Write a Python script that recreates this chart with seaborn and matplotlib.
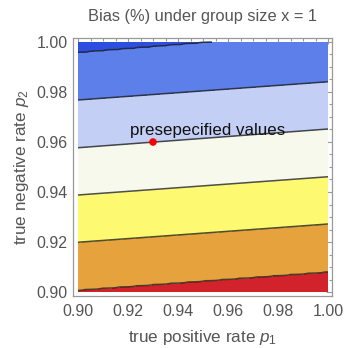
import numpy as np
import matplotlib
matplotlib.use("Agg")
import matplotlib.pyplot as plt
import seaborn as sns
import pandas as pd

# ---- data ----
# contour boundaries (p2 value) at p1 = 0.90 and p1 = 1.00, bottom -> top
p1_range = [0.90, 1.00]
p2_range = [0.90, 1.00]
boundary_p2_at_p1_090 = [0.9008, 0.9199, 0.9388, 0.9577, 0.9768, 0.9957]
boundary_p2_at_p1_100 = [0.9081, 0.9272, 0.9461, 0.9652, 0.9841, 1.0037]
# band colours, bottom (highest bias) -> top (lowest bias)
band_colors = ["#d2222c", "#e5a23d", "#fdfa72", "#f7f9ec", "#c3cff4", "#5c7fe9", "#2c4fe0"]
point_p1 = [0.93]
point_p2 = [0.96]
point_label = "presepecified values"
title = "Bias (%) under group size x = 1"
xlabel = r"true positive rate $p_1$"
ylabel = r"true negative rate $p_2$"
tick_values = [0.90, 0.92, 0.94, 0.96, 0.98, 1.00]

sns.set_theme(style="white")
plt.rcParams["font.family"] = ["Liberation Sans", "DejaVu Sans"]
plt.rcParams["mathtext.fontset"] = "custom"
plt.rcParams["mathtext.rm"] = "Liberation Sans"
plt.rcParams["mathtext.it"] = "Liberation Sans:italic"

fig = plt.figure(figsize=(3.44, 3.48), dpi=100)
ax = fig.add_axes([73 / 344, (348 - 296) / 348, 259 / 344, 258 / 348])

# build a field whose level sets are the boundary lines
p1 = np.linspace(p1_range[0], p1_range[1], 201)
p2 = np.linspace(p2_range[0], p2_range[1], 201)
P1, P2 = np.meshgrid(p1, p2)
left = np.array(boundary_p2_at_p1_090)
right = np.array(boundary_p2_at_p1_100)
nb = len(left)
Z = np.empty_like(P1)
for j, x in enumerate(p1):
    t = (x - p1_range[0]) / (p1_range[1] - p1_range[0])
    b = left + (right - left) * t
    bx = np.concatenate([[b[0] - 0.1], b, [b[-1] + 0.1]])
    lv = np.concatenate([[-1.0], np.arange(nb, dtype=float), [float(nb)]])
    Z[:, j] = np.interp(p2, bx, lv)

levels = np.concatenate([[-2.0], np.arange(nb, dtype=float), [nb + 1.0]])
ax.contourf(P1, P2, Z, levels=levels, colors=band_colors)
ax.contour(P1, P2, Z, levels=np.arange(nb, dtype=float), colors="#222222",
           linewidths=1.1, alpha=0.8)

df = pd.DataFrame({"p1": point_p1, "p2": point_p2})
sns.scatterplot(data=df, x="p1", y="p2", ax=ax, color="#ff0000", s=30,
                edgecolor="none", zorder=5)
ax.text(0.952, 0.9645, point_label, ha="center", va="center",
        fontsize=12.2, color="#111111", zorder=6)

ax.set_xlim(0.898, 1.0016)
ax.set_ylim(0.8984, 1.0016)
ax.set_xticks(tick_values)
ax.set_yticks(tick_values)
ax.set_xticklabels([f"{v:.2f}" for v in tick_values])
ax.set_yticklabels([f"{v:.2f}" for v in tick_values])
ax.set_xticks(np.arange(0.90, 1.0001, 0.005), minor=True)
ax.set_yticks(np.arange(0.90, 1.0001, 0.005), minor=True)
ax.tick_params(which="both", direction="in", top=True, right=True,
               color="#999999", width=0.8)
ax.tick_params(which="major", length=4, labelsize=11.5, labelcolor="#555555")
ax.tick_params(which="minor", length=2.2)
ax.tick_params(axis="x", which="major", pad=6)
ax.tick_params(axis="y", which="major", pad=4)
for s in ax.spines.values():
    s.set_color("#999999")
    s.set_linewidth(0.9)

ax.set_xlabel(xlabel, fontsize=12.3, color="#555555", labelpad=6)
ax.set_ylabel(ylabel, fontsize=12.3, color="#555555", labelpad=4)
ax.set_title(title, fontsize=11.8, color="#555555", pad=12)

fig.savefig("out.png", dpi=100)
